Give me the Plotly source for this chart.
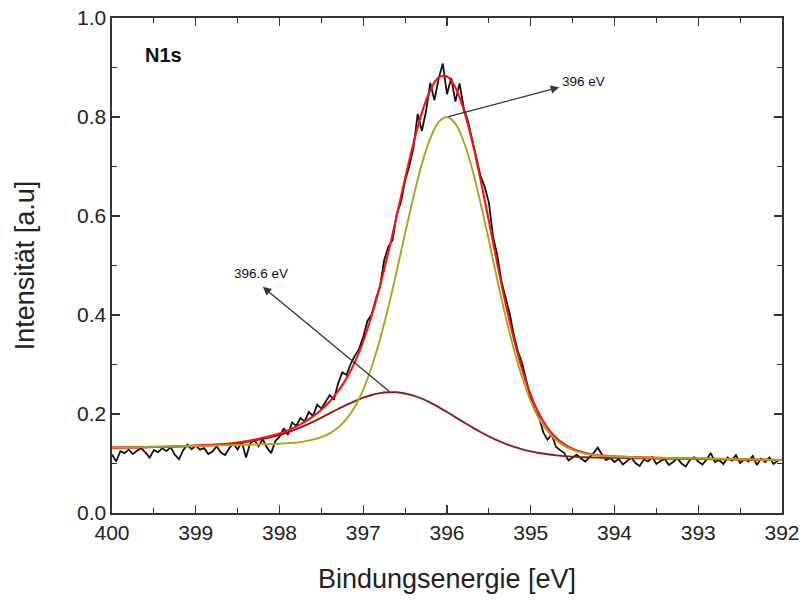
import plotly.graph_objects as go

# ---- measured spectrum (binding energy in eV, intensity in a.u.) ----
energy = [400.00, 399.95, 399.90, 399.85, 399.80, 399.75, 399.70, 399.65, 399.60, 399.55,
          399.50, 399.45, 399.40, 399.35, 399.30, 399.25, 399.20, 399.15, 399.10, 399.05,
          399.00, 398.95, 398.90, 398.85, 398.80, 398.75, 398.70, 398.65, 398.60, 398.55,
          398.50, 398.45, 398.40, 398.35, 398.30, 398.25, 398.20, 398.15, 398.10, 398.05,
          398.00, 397.95, 397.90, 397.85, 397.80, 397.75, 397.70, 397.65, 397.60, 397.55,
          397.50, 397.45, 397.40, 397.35, 397.30, 397.25, 397.20, 397.15, 397.10, 397.05,
          397.00, 396.95, 396.90, 396.85, 396.80, 396.75, 396.70, 396.65, 396.60, 396.55,
          396.50, 396.45, 396.40, 396.35, 396.30, 396.25, 396.20, 396.15, 396.10, 396.05,
          396.00, 395.95, 395.90, 395.85, 395.80, 395.75, 395.70, 395.65, 395.60, 395.55,
          395.50, 395.45, 395.40, 395.35, 395.30, 395.25, 395.20, 395.15, 395.10, 395.05,
          395.00, 394.95, 394.90, 394.85, 394.80, 394.75, 394.70, 394.65, 394.60, 394.55,
          394.50, 394.45, 394.40, 394.35, 394.30, 394.25, 394.20, 394.15, 394.10, 394.05,
          394.00, 393.95, 393.90, 393.85, 393.80, 393.75, 393.70, 393.65, 393.60, 393.55,
          393.50, 393.45, 393.40, 393.35, 393.30, 393.25, 393.20, 393.15, 393.10, 393.05,
          393.00, 392.95, 392.90, 392.85, 392.80, 392.75, 392.70, 392.65, 392.60, 392.55,
          392.50, 392.45, 392.40, 392.35, 392.30, 392.25, 392.20, 392.15, 392.10, 392.05,
          392.00]

intensity = [0.118, 0.104, 0.125, 0.121, 0.128, 0.119, 0.126, 0.131, 0.122, 0.112,
             0.127, 0.123, 0.131, 0.125, 0.133, 0.118, 0.109, 0.127, 0.138, 0.129,
             0.136, 0.128, 0.131, 0.119, 0.124, 0.135, 0.122, 0.117, 0.131, 0.140,
             0.128, 0.144, 0.112, 0.141, 0.147, 0.135, 0.149, 0.132, 0.121, 0.145,
             0.154, 0.171, 0.158, 0.183, 0.176, 0.192, 0.185, 0.204, 0.196, 0.219,
             0.211, 0.226, 0.238, 0.229, 0.262, 0.284, 0.279, 0.301, 0.318, 0.331,
             0.356, 0.388, 0.401, 0.432, 0.457, 0.511, 0.538, 0.551, 0.604, 0.628,
             0.672, 0.701, 0.738, 0.806, 0.772, 0.812, 0.869, 0.834, 0.878, 0.908,
             0.846, 0.879, 0.831, 0.868, 0.818, 0.792, 0.757, 0.722, 0.681, 0.659,
             0.627, 0.558, 0.521, 0.468, 0.436, 0.402, 0.357, 0.325, 0.301, 0.268,
             0.231, 0.207, 0.193, 0.163, 0.148, 0.159, 0.134, 0.127, 0.121, 0.106,
             0.112, 0.118, 0.110, 0.104, 0.113, 0.121, 0.132, 0.118, 0.107, 0.111,
             0.103, 0.109, 0.098, 0.106, 0.112, 0.101, 0.095, 0.108, 0.104, 0.113,
             0.099, 0.105, 0.109, 0.097, 0.103, 0.111, 0.100, 0.094, 0.107, 0.113,
             0.104, 0.098, 0.108, 0.121, 0.103, 0.107, 0.099, 0.112, 0.106, 0.117,
             0.101, 0.109, 0.104, 0.115, 0.097, 0.110, 0.103, 0.112, 0.099, 0.106,
             0.108]

# ---- fitted curves ----
fit_energy = [400.0, 399.5, 399.0, 398.5,
              398.0, 397.9, 397.8, 397.7, 397.6, 397.5, 397.4, 397.3, 397.2, 397.1,
              397.0, 396.9, 396.8, 396.7, 396.6, 396.5, 396.4, 396.3, 396.2, 396.1,
              396.0, 395.9, 395.8, 395.7, 395.6, 395.5, 395.4, 395.3, 395.2, 395.1,
              395.0, 394.9, 394.8, 394.7, 394.6, 394.5, 394.4, 394.3, 394.2, 394.1,
              394.0, 393.5, 393.0, 392.5, 392.0]

envelope = [0.1320, 0.1335, 0.1363, 0.1424,
            0.1605, 0.1670, 0.1744, 0.1840, 0.1953, 0.2087, 0.2254, 0.2461, 0.2720, 0.3049,
            0.3470, 0.3984, 0.4592, 0.5270, 0.6010, 0.6765, 0.7472, 0.8089, 0.8540, 0.8800,
            0.8820, 0.8598, 0.8144, 0.7513, 0.6736, 0.5898, 0.5037, 0.4226, 0.3505, 0.2886,
            0.2384, 0.1999, 0.1721, 0.1525, 0.1390, 0.1298, 0.1239, 0.1198, 0.1168, 0.1155,
            0.1143, 0.1115, 0.1100, 0.1085, 0.1070]

peak_396 = [0.1320, 0.1335, 0.1355, 0.1375,
            0.1400, 0.1411, 0.1422, 0.1447, 0.1482, 0.1531, 0.1610, 0.1728, 0.1900, 0.2147,
            0.2495, 0.2948, 0.3510, 0.4160, 0.4890, 0.5655, 0.6390, 0.7053, 0.7565, 0.7898,
            0.8000, 0.7865, 0.7500, 0.6957, 0.6265, 0.5505, 0.4715, 0.3967, 0.3300, 0.2726,
            0.2262, 0.1907, 0.1653, 0.1476, 0.1355, 0.1273, 0.1222, 0.1186, 0.1160, 0.1150,
            0.1140, 0.1115, 0.1100, 0.1085, 0.1070]

peak_3966 = [0.1320, 0.1330, 0.1353, 0.1409,
             0.1575, 0.1630, 0.1694, 0.1765, 0.1843, 0.1927, 0.2014, 0.2101, 0.2185, 0.2262,
             0.2330, 0.2384, 0.2422, 0.2440, 0.2440, 0.2415, 0.2372, 0.2309, 0.2230, 0.2140,
             0.2040, 0.1938, 0.1834, 0.1733, 0.1636, 0.1548, 0.1467, 0.1396, 0.1335, 0.1286,
             0.1244, 0.1212, 0.1186, 0.1165, 0.1150, 0.1138, 0.1129, 0.1123, 0.1118, 0.1115,
             0.1113, 0.1100, 0.1090, 0.1080, 0.1070]

x_ticks = [400, 399, 398, 397, 396, 395, 394, 393, 392]
y_ticks = [0.0, 0.2, 0.4, 0.6, 0.8, 1.0]

FONT = "Liberation Sans, Arial, Helvetica, sans-serif"
TXT = "#222222"

fig = go.Figure()
fig.add_trace(go.Scatter(x=energy, y=intensity, mode="lines",
                         line=dict(color="#111111", width=1.8), name="Messung"))
fig.add_trace(go.Scatter(x=fit_energy, y=peak_3966, mode="lines", line_shape="spline",
                         line=dict(color="#8E1B1B", width=1.9), name="396.6 eV"))
fig.add_trace(go.Scatter(x=fit_energy, y=envelope, mode="lines", line_shape="spline",
                         line=dict(color="#FF1010", width=2.1), name="Fit"))
fig.add_trace(go.Scatter(x=fit_energy, y=peak_396, mode="lines", line_shape="spline",
                         line=dict(color="#AAA31C", width=1.9), name="396 eV"))

axis_common = dict(
    showline=True, linecolor="#333333", linewidth=1.6, mirror="ticks",
    ticks="inside", ticklen=8, tickwidth=1.4, tickcolor="#333333",
    showgrid=False, zeroline=False, automargin=False, ticklabeloverflow="allow",
    tickfont=dict(family=FONT, size=21, color=TXT),
)

fig.update_xaxes(
    range=[400, 392], tickvals=x_ticks, ticktext=[str(v) for v in x_ticks],
    minor=dict(dtick=0.5, ticks="inside", ticklen=5, tickcolor="#333333", tickwidth=1.2),
    title=dict(text="Bindungsenergie [eV]", font=dict(family=FONT, size=27, color=TXT),
               standoff=26),
    **axis_common)
fig.update_yaxes(
    range=[0, 1.0], tickvals=y_ticks, ticktext=[f"{v:.1f}" for v in y_ticks],
    minor=dict(dtick=0.1, ticks="inside", ticklen=5, tickcolor="#333333", tickwidth=1.2),
    title=dict(text="Intensität [a.u]", font=dict(family=FONT, size=27, color=TXT),
               standoff=34),
    **axis_common)

fig.add_annotation(x=0.046, y=0.925, xref="paper", yref="paper", text="<b>N1s</b>",
                   showarrow=False, xanchor="left", yanchor="middle",
                   font=dict(family=FONT, size=20, color="#111111"))

# arrows
fig.add_annotation(x=394.66, y=0.860, ax=396.0, ay=0.800, xref="x", yref="y",
                   axref="x", ayref="y", text="", showarrow=True, arrowhead=2,
                   arrowsize=1.3, arrowwidth=1.3, arrowcolor="#333333")
fig.add_annotation(x=398.2, y=0.457, ax=396.67, ay=0.243, xref="x", yref="y",
                   axref="x", ayref="y", text="", showarrow=True, arrowhead=2,
                   arrowsize=1.3, arrowwidth=1.3, arrowcolor="#333333")

fig.add_annotation(x=0.669, y=0.871, xref="paper", yref="paper", text="396 eV",
                   showarrow=False, xanchor="left", yanchor="middle",
                   font=dict(family=FONT, size=13.5, color="#111111"))
fig.add_annotation(x=0.179, y=0.483, xref="paper", yref="paper", text="396.6 eV",
                   showarrow=False, xanchor="left", yanchor="middle",
                   font=dict(family=FONT, size=13.5, color="#111111"))

fig.update_layout(
    width=803, height=601,
    margin=dict(l=112, r=21, t=18, b=88, autoexpand=False),
    paper_bgcolor="white", plot_bgcolor="white",
    showlegend=False,
    font=dict(family=FONT),
)

# remove the browser's default 8 px body margin so the figure fills the window
fig.write_html("out.html",
               config={"displayModeBar": False, "staticPlot": True},
               post_script="document.body.style.margin='0';document.body.style.overflow='hidden';")
